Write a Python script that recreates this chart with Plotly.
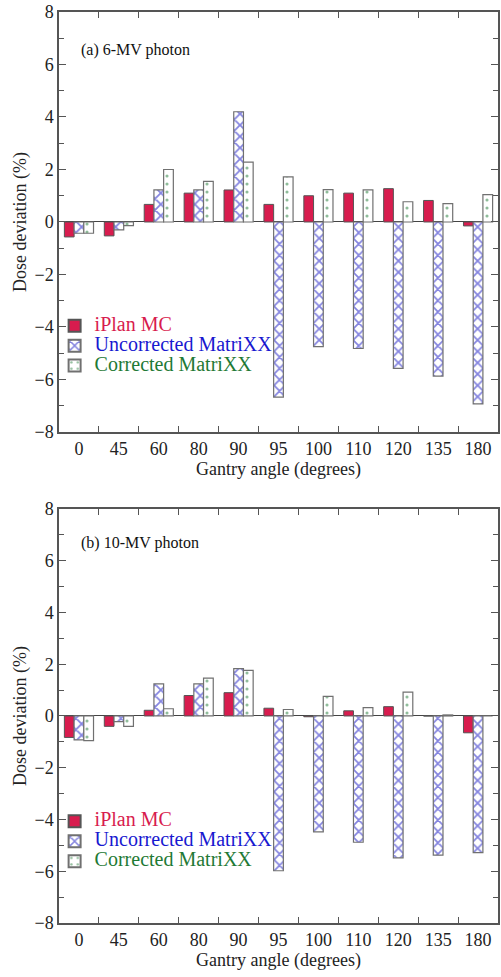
import plotly.graph_objects as go

angles = ["0", "45", "60", "80", "90", "95", "100", "110", "120", "135", "180"]

mv6_iplan = [-0.57, -0.53, 0.67, 1.10, 1.22, 0.67, 1.00, 1.10, 1.27, 0.82, -0.15]
mv6_uncorr = [-0.43, -0.30, 1.22, 1.22, 4.20, -6.67, -4.75, -4.82, -5.58, -5.87, -6.93]
mv6_corr = [-0.43, -0.14, 2.00, 1.55, 2.28, 1.72, 1.23, 1.22, 0.77, 0.70, 1.04]

mv10_iplan = [-0.83, -0.40, 0.22, 0.79, 0.90, 0.30, -0.03, 0.20, 0.36, 0.0, -0.65]
mv10_uncorr = [-0.92, -0.22, 1.24, 1.24, 1.83, -5.98, -4.48, -4.88, -5.48, -5.38, -5.28]
mv10_corr = [-0.95, -0.40, 0.28, 1.46, 1.76, 0.25, 0.76, 0.32, 0.92, 0.04, 0.0]

panel_titles = ["(a) 6-MV photon", "(b) 10-MV photon"]
series_names = ["iPlan MC", "Uncorrected MatriXX", "Corrected MatriXX"]

RED = "#d81c4e"
BLUE = "#1818d0"
GREEN = "#1f7a35"
EDGE = "#707070"
FONT = "Liberation Serif, Times New Roman, serif"


def lname(text, color):
    return (f"<span style='color:{color};font-size:20px;"
            f"font-family:Liberation Serif'>{text}</span>")


fig = go.Figure()

panels = [(mv6_iplan, mv6_uncorr, mv6_corr), (mv10_iplan, mv10_uncorr, mv10_corr)]
for p, (a, b, c) in enumerate(panels):
    xa = "x" if p == 0 else "x2"
    ya = "y" if p == 0 else "y2"
    lg = "legend" if p == 0 else "legend2"
    fig.add_trace(go.Bar(
        x=angles, y=a, xaxis=xa, yaxis=ya, legend=lg,
        name=lname(series_names[0], RED),
        marker=dict(color=RED, line=dict(color="#555555", width=1)),
        offsetgroup="a",
    ))
    fig.add_trace(go.Bar(
        x=angles, y=b, xaxis=xa, yaxis=ya, legend=lg,
        name=lname(series_names[1], BLUE),
        marker=dict(color="white", line=dict(color=EDGE, width=1.2),
                    pattern=dict(shape="x", fgcolor="#0a0ac0", bgcolor="white",
                                 size=8, solidity=0.4)),
        offsetgroup="b",
    ))
    fig.add_trace(go.Bar(
        x=angles, y=c, xaxis=xa, yaxis=ya, legend=lg,
        name=lname(series_names[2], GREEN),
        marker=dict(color="white", line=dict(color=EDGE, width=1.2),
                    pattern=dict(shape=".", fgcolor=GREEN, bgcolor="white",
                                 size=8, solidity=0.12)),
        offsetgroup="c",
    ))

axis_common_x = dict(
    type="category", showline=True, linecolor="#555555", linewidth=1.5,
    mirror="ticks", ticks="inside", tickson="boundaries", ticklen=6,
    tickcolor="#555555", tickfont=dict(family=FONT, size=18, color="#222"),
    showgrid=False, zeroline=False,
    title=dict(text="Gantry angle (degrees)", font=dict(family=FONT, size=18, color="#222"), standoff=2),
)
axis_common_y = dict(
    range=[-8, 8], dtick=2, tick0=0, showline=True, linecolor="#555555", linewidth=1.5,
    mirror="ticks", ticks="inside", ticklen=7, tickcolor="#555555",
    minor=dict(dtick=1, ticks="inside", ticklen=5, tickcolor="#555555"),
    tickfont=dict(family=FONT, size=18, color="#222"),
    showgrid=False, zeroline=True, zerolinecolor="#444444", zerolinewidth=1.2,
    title=dict(text="Dose deviation (%)", font=dict(family=FONT, size=18, color="#222"), standoff=3),
)

fig.update_layout(
    width=501, height=977,
    margin=dict(l=59, r=1, t=12, b=54),
    paper_bgcolor="white", plot_bgcolor="white",
    barmode="group", bargap=0.27, bargroupgap=0.0,
    font=dict(family=FONT, size=18, color="#222"),
    xaxis=dict(domain=[0, 1], anchor="y", **axis_common_x),
    yaxis=dict(domain=[0.539, 1], anchor="x", **axis_common_y),
    xaxis2=dict(domain=[0, 1], anchor="y2", **axis_common_x),
    yaxis2=dict(domain=[0, 0.4545], anchor="x2", **axis_common_y),
    legend=dict(x=-0.01, y=0.672, xanchor="left", yanchor="top",
                bgcolor="rgba(0,0,0,0)", font=dict(family=FONT, size=13),
                tracegroupgap=0, itemsizing="constant"),
    legend2=dict(x=-0.01, y=0.128, xanchor="left", yanchor="top",
                 bgcolor="rgba(0,0,0,0)", font=dict(family=FONT, size=13),
                 tracegroupgap=0, itemsizing="constant"),
    showlegend=True,
    annotations=[
        dict(text=panel_titles[0], xref="paper", yref="paper", x=0.045, y=0.958,
             xanchor="left", yanchor="middle", showarrow=False,
             font=dict(family=FONT, size=16, color="#111")),
        dict(text=panel_titles[1], xref="paper", yref="paper", x=0.045, y=0.417,
             xanchor="left", yanchor="middle", showarrow=False,
             font=dict(family=FONT, size=16, color="#111")),
    ],
)

fig.write_html("out.html")
